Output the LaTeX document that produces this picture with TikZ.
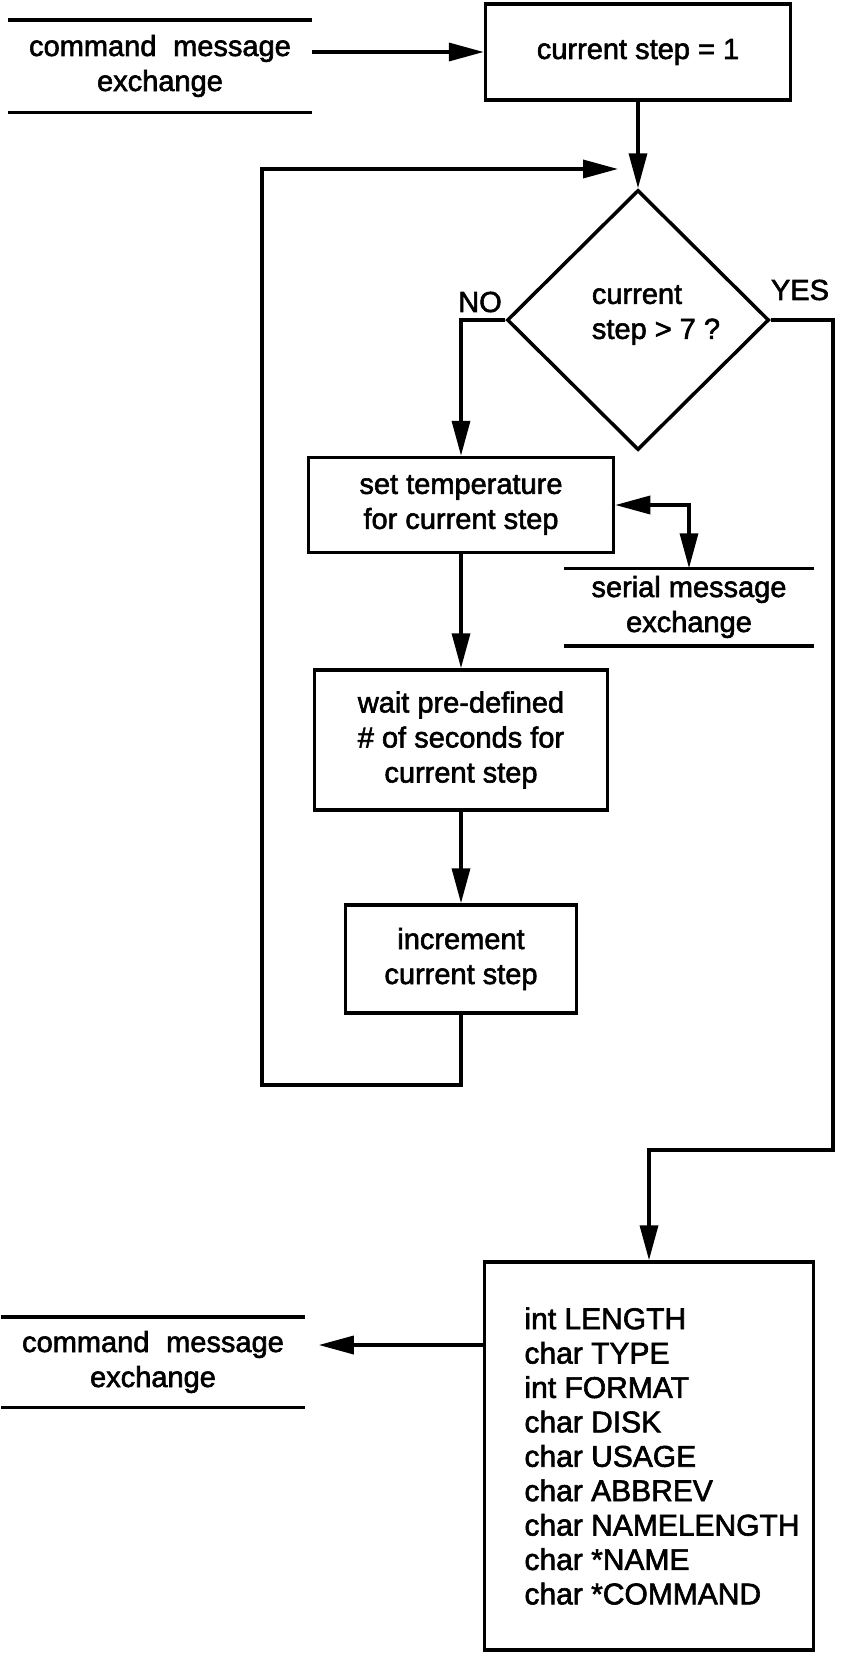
\documentclass[tikz,border=0pt]{standalone}
\usepackage{fontspec}
\setmainfont{Liberation Sans}[FakeBold=2]
\usetikzlibrary{arrows.meta,shapes.geometric}
\begin{document}
\begin{tikzpicture}[x=0.5pt,y=-0.5pt,
  line width=1.75pt,
  every node/.style={font=\fontsize{14.5pt}{17.5pt}\selectfont, inner sep=0pt, align=center},
  procbox/.style={draw, rectangle},
  store/.style={rectangle},
  decision/.style={draw, diamond},
  arr/.style={-{Triangle[length=17.5pt,width=9pt]}},
  dblarr/.style={{Triangle[length=17.5pt,width=9pt]}-{Triangle[length=17.5pt,width=9pt]}}]

\useasboundingbox (0,0) rectangle (848,1654);

% data stores (two horizontal rules around a label)
\node[store, minimum width=150pt, minimum height=44.5pt] (cmdin) at (160,66)
  {command\hspace{0.3em} message\\exchange};
\node[store, minimum width=123pt, minimum height=37pt] (serial) at (689,607)
  {serial message\\exchange};
\node[store, minimum width=150pt, minimum height=43.5pt] (cmdout) at (153,1362)
  {command\hspace{0.3em} message\\exchange};
\foreach \s in {cmdin,serial,cmdout}
  \draw (\s.north west) -- (\s.north east) (\s.south west) -- (\s.south east);

% process steps
\node[procbox, minimum width=152.5pt, minimum height=48pt] (init) at (638,52)
  {current step = 1};
\node[decision, minimum width=131pt, minimum height=130pt] (test) at (638,320) {};
\node[align=left] (testtext) at (656,315) {current\\step > 7 ?};
\node[procbox, minimum width=152.5pt, minimum height=47.5pt] (settemp) at (461,505)
  {set temperature\\for current step};
\node[procbox, minimum width=146.5pt, minimum height=70pt] (wait) at (461,740)
  {wait pre-defined\\\# of seconds for\\current step};
\node[procbox, minimum width=115.5pt, minimum height=54pt] (incr) at (461,959)
  {increment\\current step};

% message record: box with its field list
\node[procbox, minimum width=164.5pt, minimum height=194pt] (record) at (649,1456) {};
\node[anchor=west, align=left, font=\fontsize{15pt}{17.2pt}\selectfont]
  (fields) at ([xshift=20pt]record.west)
  {int LENGTH\\char TYPE\\int FORMAT\\char DISK\\char USAGE\\char ABBREV\\char NAMELENGTH\\char *NAME\\char *COMMAND};

% branch labels
\node (no) at (480,302) {NO};
\node (yes) at (800,290) {YES};

% helper points for the routed connectors
\coordinate (loopcorner) at (262,1085);
\coordinate (loopend) at (618,169);
\coordinate (yescorner) at (833,1150);
\coordinate (outend) at ([xshift=7pt,yshift=8.5pt]cmdout.east);

% connectors
\draw[arr] (cmdin.east |- init.west) -- (init.west);
\draw[arr] (init.south) -- (test.north);
\draw[arr] (test.west) -| (settemp.north);
\draw[dblarr] (settemp.east) -| (serial.north);
\draw[arr] (settemp.south) -- (wait.north);
\draw[arr] (wait.south) -- (incr.north);
\draw[arr] (incr.south) |- (loopcorner) |- (loopend);
\draw[arr] (test.east) -| (yescorner) -| (record.north);
\draw[arr] (outend -| record.west) -- (outend);
\end{tikzpicture}
\end{document}
